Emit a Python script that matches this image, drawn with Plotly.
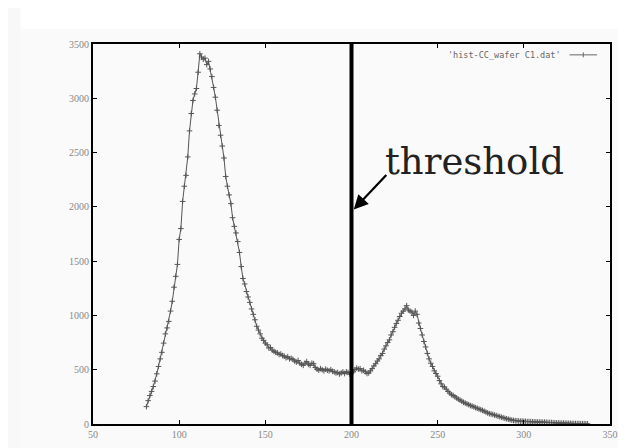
import plotly.graph_objects as go

# histogram bins (x) and counts (y)
bins = list(range(81, 338))
counts = [
    160, 215, 262, 300, 345, 395, 462, 530, 600, 660,          # 81-90
    745, 830, 885, 945, 1040, 1130, 1260, 1360, 1470, 1700,    # 91-100
    1800, 2050, 2190, 2290, 2460, 2700, 2860, 2980, 3040, 3090,  # 101-110
    3240, 3410, 3380, 3360, 3370, 3310, 3340, 3270, 3200, 3100,  # 111-120
    3010, 2890, 2750, 2660, 2560, 2450, 2280, 2190, 2110, 2030,  # 121-130
    1900, 1820, 1760, 1680, 1580, 1450, 1340, 1290, 1220, 1170,  # 131-140
    1120, 1060, 1010, 960, 900, 865, 830, 790, 770, 745,       # 141-150
    730, 700, 705, 680, 670, 660, 655, 640, 645, 630,          # 151-160
    625, 610, 620, 600, 605, 595, 580, 570, 585, 560,          # 161-170
    550, 540, 560, 575, 550, 540, 560, 555, 520, 505,          # 171-180
    495, 510, 500, 490, 505, 495, 490, 500, 485, 480,          # 181-190
    470, 475, 460, 470, 480, 465, 480, 475, 460, 470,          # 191-200
    480, 500, 515, 505, 510, 490, 495, 480, 465, 470,          # 201-210
    490, 510, 535, 555, 580, 600, 630, 650, 690, 720,          # 211-220
    750, 775, 820, 850, 890, 925, 955, 990, 1020, 1040,        # 221-230
    1060, 1090, 1050, 1040, 1030, 1000, 1040, 1010, 930, 880,  # 231-240
    820, 760, 710, 650, 600, 560, 530, 490, 465, 440,          # 241-250
    400, 370, 345, 340, 320, 300, 285, 270, 262, 250,          # 251-260
    240, 228, 220, 210, 200, 192, 185, 178, 170, 165,          # 261-270
    158, 150, 145, 138, 132, 125, 118, 110, 102, 95,           # 271-280
    92, 88, 82, 78, 72, 68, 62, 58, 52, 48,                    # 281-290
    44, 40, 36, 33, 30, 30, 28, 26, 27, 25,                    # 291-300
    24, 22, 23, 21, 20, 19, 20, 18, 17, 18,                    # 301-310
    16, 17, 15, 14, 13, 14, 12, 11, 10, 10,                    # 311-320
    9, 8, 8, 7, 7, 6, 6, 5, 5, 4,                              # 321-330
    4, 4, 3, 3, 3, 2, 2,                                       # 331-337
]

x_ticks = [50, 100, 150, 200, 250, 300, 350]
y_ticks = [0, 500, 1000, 1500, 2000, 2500, 3000, 3500]
threshold_x = 200
legend_label = "'hist-CC_wafer C1.dat'"
annotation_text = "threshold"

fig = go.Figure()
fig.add_trace(go.Scatter(
    x=bins, y=counts, mode="lines+markers",
    line=dict(color="#555555", width=1),
    marker=dict(symbol="cross-thin", size=4, line=dict(color="#555555", width=1)),
    showlegend=False,
))

axis_common = dict(
    showline=True, linecolor="black", linewidth=2, mirror="ticks",
    ticks="inside", ticklen=4, tickcolor="black", tickwidth=1,
    showgrid=False, zeroline=False,
    tickfont=dict(family="Liberation Serif", size=10, color="#888888"),
)
fig.update_xaxes(range=[50, 350], tickvals=x_ticks, ticktext=[str(v) for v in x_ticks], **axis_common)
fig.update_yaxes(range=[0, 3500], tickvals=y_ticks, ticktext=[str(v) for v in y_ticks], **axis_common)

shapes = [
    # scanned-page background tone
    dict(type="rect", xref="paper", yref="paper", x0=-0.14, x1=1.04, y0=-0.07, y1=1.04,
         fillcolor="#fafafa", line=dict(width=0), layer="below"),
    dict(type="rect", xref="paper", yref="paper", x0=-0.195, x1=-0.14, y0=-0.07, y1=1.11,
         fillcolor="#f8f8f8", line=dict(width=0), layer="below"),
    # threshold line
    dict(type="line", xref="x", yref="y", x0=threshold_x, x1=threshold_x, y0=0, y1=3500,
         line=dict(color="black", width=4)),
    # legend key sample
    dict(type="line", xref="x", yref="y", x0=326.5, x1=342.5, y0=3400, y1=3400,
         line=dict(color="#666666", width=1)),
    dict(type="line", xref="x", yref="y", xsizemode="scaled", ysizemode="pixel",
         yanchor=3400, x0=334.5, x1=334.5, y0=-2.5, y1=2.5,
         line=dict(color="#666666", width=1)),
]

annotations = [
    dict(x=322.6, y=3400, xref="x", yref="y", text=legend_label, showarrow=False,
         xanchor="right", yanchor="middle",
         font=dict(family="DejaVu Sans Mono", size=8.5, color="#666666")),
    dict(x=0, y=0, xref="paper", yref="paper", text=annotation_text, showarrow=False,
         xanchor="left", yanchor="middle",
         xshift=(383 - 93), yshift=(423.5 - 161),
         font=dict(family="DejaVu Serif", size=37, color="#222222")),
    dict(x=201.3, y=1975, xref="x", yref="y", text="", showarrow=True,
         ax=34, ay=-36, arrowhead=2, arrowsize=1.3, arrowwidth=2.2, arrowcolor="black"),
]

# the page body has an 8px default margin, so the figure is sized/offset to compensate
fig.update_layout(
    width=618, height=440,
    margin=dict(l=85, r=8, t=36, b=16.5, pad=0),
    paper_bgcolor="white", plot_bgcolor="#fefefe",
    shapes=shapes, annotations=annotations,
)

fig.write_html("out.html")
